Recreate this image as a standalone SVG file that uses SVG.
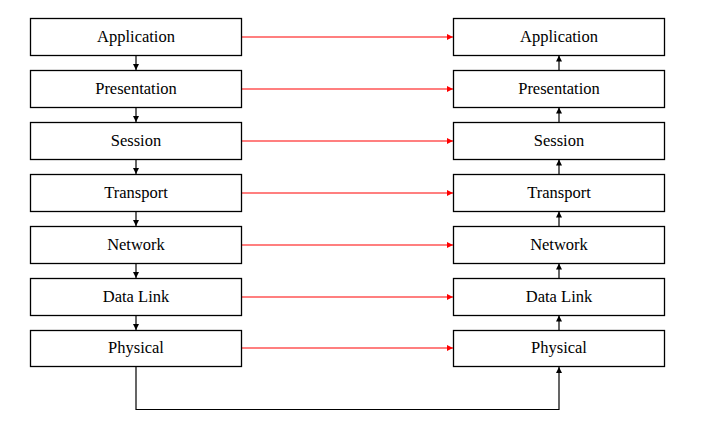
<svg xmlns="http://www.w3.org/2000/svg" width="705" height="437" viewBox="0 0 705 437">
<defs>
<style>
.box{fill:#fff;stroke:#000;stroke-width:1.3}
.lbl{font-family:"Liberation Serif","Times New Roman",serif;font-size:16.5px;fill:#000;text-anchor:middle}
.red{stroke:#f00;stroke-width:1.2;fill:none}
.blk{stroke:#000;stroke-width:1.2;fill:none}
</style>
<marker id="ar" viewBox="0 0 10 10" refX="10" refY="5" markerWidth="7" markerHeight="6" markerUnits="userSpaceOnUse" orient="auto"><path d="M0,0L10,5L0,10z" fill="#f00"/></marker>
<marker id="ab" viewBox="0 0 10 10" refX="10" refY="5" markerWidth="7" markerHeight="6" markerUnits="userSpaceOnUse" orient="auto"><path d="M0,0L10,5L0,10z" fill="#000"/></marker>
</defs>
<rect width="705" height="437" fill="#fff"/>
<g id="connectors">
<path class="red" d="M241,37H453" marker-end="url(#ar)"/>
<path class="red" d="M241,89H453" marker-end="url(#ar)"/>
<path class="red" d="M241,141H453" marker-end="url(#ar)"/>
<path class="red" d="M241,193H453" marker-end="url(#ar)"/>
<path class="red" d="M241,245H453" marker-end="url(#ar)"/>
<path class="red" d="M241,297H453" marker-end="url(#ar)"/>
<path class="red" d="M241,348H453" marker-end="url(#ar)"/>
<path class="blk" d="M136,55.5V70" marker-end="url(#ab)"/>
<path class="blk" d="M136,107.5V122" marker-end="url(#ab)"/>
<path class="blk" d="M136,159.5V174" marker-end="url(#ab)"/>
<path class="blk" d="M136,211.5V226" marker-end="url(#ab)"/>
<path class="blk" d="M136,263.5V278" marker-end="url(#ab)"/>
<path class="blk" d="M136,315.5V330" marker-end="url(#ab)"/>
<path class="blk" d="M559,70V55.5" marker-end="url(#ab)"/>
<path class="blk" d="M559,122V107.5" marker-end="url(#ab)"/>
<path class="blk" d="M559,174V159.5" marker-end="url(#ab)"/>
<path class="blk" d="M559,226V211.5" marker-end="url(#ab)"/>
<path class="blk" d="M559,278V263.5" marker-end="url(#ab)"/>
<path class="blk" d="M559,330V315.5" marker-end="url(#ab)"/>
<path class="blk" d="M136,367V409.5H559V367" marker-end="url(#ab)"/>
</g>
<g id="l-app"><rect class="box" x="30.5" y="18.5" width="211" height="37"/><text class="lbl" x="136" y="41.7">Application</text></g>
<g id="l-pres"><rect class="box" x="30.5" y="70.5" width="211" height="37"/><text class="lbl" x="136" y="93.7">Presentation</text></g>
<g id="l-sess"><rect class="box" x="30.5" y="122.5" width="211" height="37"/><text class="lbl" x="136" y="145.7">Session</text></g>
<g id="l-trans"><rect class="box" x="30.5" y="174.5" width="211" height="37"/><text class="lbl" x="136" y="197.7">Transport</text></g>
<g id="l-net"><rect class="box" x="30.5" y="226.5" width="211" height="37"/><text class="lbl" x="136" y="249.7">Network</text></g>
<g id="l-dl"><rect class="box" x="30.5" y="278.5" width="211" height="37"/><text class="lbl" x="136" y="301.7">Data Link</text></g>
<g id="l-phy"><rect class="box" x="30.5" y="330.5" width="211" height="36"/><text class="lbl" x="136" y="353.2">Physical</text></g>
<g id="r-app"><rect class="box" x="453.5" y="18.5" width="211" height="37"/><text class="lbl" x="559" y="41.7">Application</text></g>
<g id="r-pres"><rect class="box" x="453.5" y="70.5" width="211" height="37"/><text class="lbl" x="559" y="93.7">Presentation</text></g>
<g id="r-sess"><rect class="box" x="453.5" y="122.5" width="211" height="37"/><text class="lbl" x="559" y="145.7">Session</text></g>
<g id="r-trans"><rect class="box" x="453.5" y="174.5" width="211" height="37"/><text class="lbl" x="559" y="197.7">Transport</text></g>
<g id="r-net"><rect class="box" x="453.5" y="226.5" width="211" height="37"/><text class="lbl" x="559" y="249.7">Network</text></g>
<g id="r-dl"><rect class="box" x="453.5" y="278.5" width="211" height="37"/><text class="lbl" x="559" y="301.7">Data Link</text></g>
<g id="r-phy"><rect class="box" x="453.5" y="330.5" width="211" height="36"/><text class="lbl" x="559" y="353.2">Physical</text></g>
</svg>
